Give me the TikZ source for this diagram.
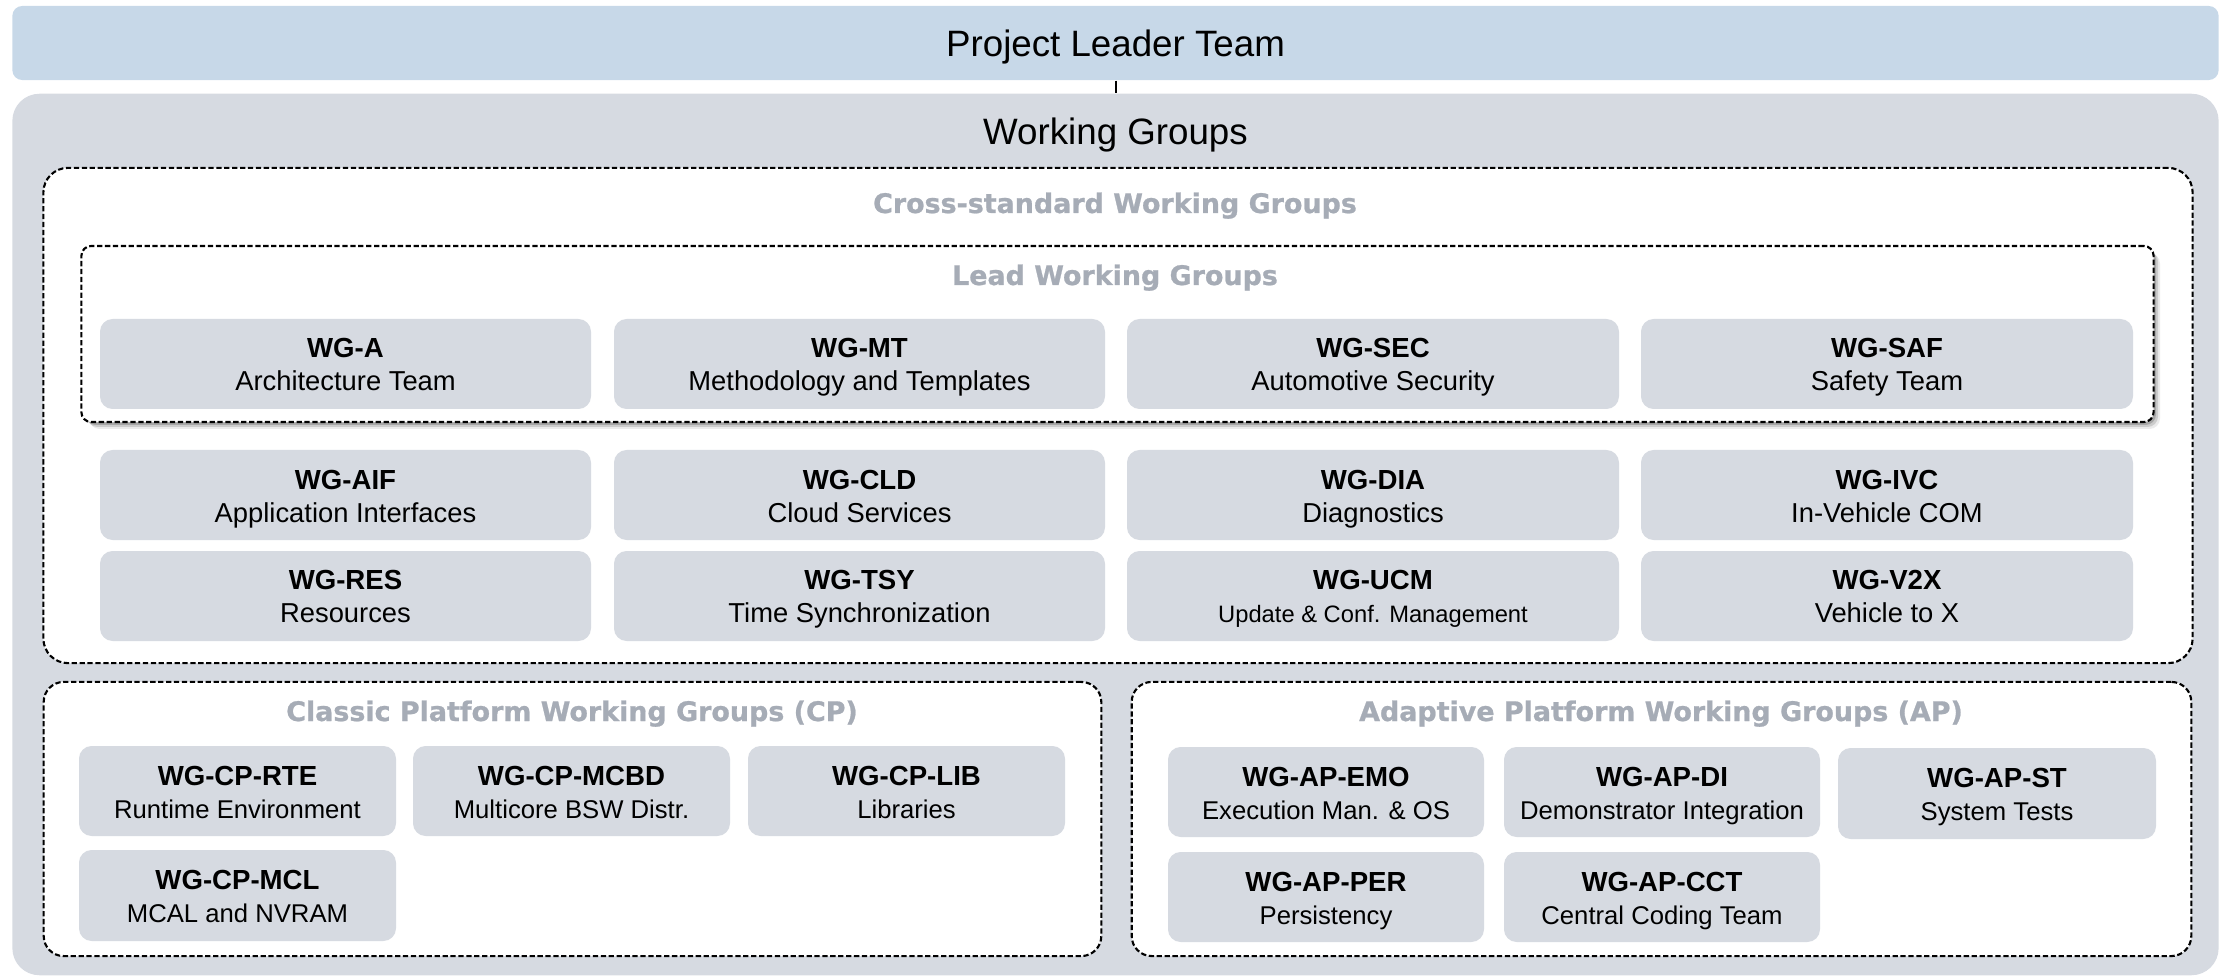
\documentclass[tikz,border=0pt]{standalone}
\usepackage{fontspec}
\setmainfont{Liberation Sans}
\newfontfamily\vfont{DejaVu Sans}[BoldFeatures={FakeBold=0.8}]
\definecolor{topblue}{RGB}{199,216,232}
\definecolor{bggray}{RGB}{214,218,225}
\definecolor{boxgray}{RGB}{214,218,225}
\definecolor{titlegray}{RGB}{166,172,182}
\newcommand\wgnode[8]{%
  \node[wgbox, minimum width={(#4-#2)*0.01cm}, minimum height={(#5-#3)*0.01cm}] (#1) at ({(#2+#4)/2},{(#3+#5)/2}) {};
  \node[btext, anchor=base] (#1t) at ({(#2+#4)/2},{#3+39}) {#6};
  \node[#8, anchor=base] (#1s) at ({(#2+#4)/2},{#3+72}) {#7};
}
\begin{document}
\begin{tikzpicture}[x=0.01cm,y=-0.01cm,
  wgbox/.style={fill=boxgray, rounded corners=3.6pt, inner sep=0pt, draw=none},
  btext/.style={inner sep=0pt, font=\fontsize{7.85}{9}\selectfont\bfseries},
  rtext/.style={inner sep=0pt, font=\fontsize{7.78}{9}\selectfont},
  rtextb/.style={inner sep=0pt, font=\fontsize{7.3}{9}\selectfont},
  rtexts/.style={inner sep=0pt, font=\fontsize{6.75}{8}\selectfont},
  dbox/.style={draw=black, line width=0.6pt, dash pattern=on 1.5pt off 0.75pt, fill=white, inner sep=0pt},
  grouptitle/.style={inner sep=0pt, text=titlegray, font=\fontsize{7.65}{9}\selectfont\vfont\bfseries},
  bigtext/.style={inner sep=0pt, font=\fontsize{10.44}{12}\selectfont}]
\useasboundingbox (0,0) rectangle (2223,976);

% top box
\node[fill=topblue, rounded corners=2.8pt, inner sep=0pt, minimum width=22.05cm, minimum height=0.74cm] (plt) at (1115.5,43) {};
\node[bigtext, anchor=base] (pltt) at (1115.5,57) {Project Leader Team};

% working groups background
\node[fill=bggray, rounded corners=7.7pt, inner sep=0pt, minimum width=22.05cm, minimum height=8.81cm] (wg) at (1115.5,534.5) {};
\node[bigtext, anchor=base] (wgt) at (1115.5,145) {Working Groups};
\draw[line width=0.5pt] (plt.south -| 1116,0) -- (wg.north -| 1116,0);

% cross-standard
\node[dbox, rounded corners=7pt, minimum width=21.48cm, minimum height=4.95cm] (cross) at (1118,415.5) {};
\node[grouptitle, anchor=base] (crosst) at (1115,213) {Cross-standard Working Groups};

% lead working groups with shadow
\foreach \o/\op in {7/0.08,5/0.13,3/0.18} {
  \fill[black, opacity=\op, rounded corners=3pt] ({82+\o},{246+\o}) rectangle ({2153+\o},{422+\o});
}
\node[dbox, rounded corners=2.8pt, minimum width=20.71cm, minimum height=1.76cm] (lead) at (1117.5,334) {};
\node[grouptitle, anchor=base] (leadt) at (1115,285) {Lead Working Groups};

\wgnode{wga}{100}{319}{591}{409}{WG-A}{Architecture Team}{rtext}
\wgnode{wgmt}{614}{319}{1105}{409}{WG-MT}{Methodology and Templates}{rtext}
\wgnode{wgsec}{1127}{319}{1619}{409}{WG-SEC}{Automotive Security}{rtext}
\wgnode{wgsaf}{1641}{319}{2133}{409}{WG-SAF}{Safety Team}{rtext}

\wgnode{wgaif}{100}{450}{591}{540}{WG-AIF}{Application Interfaces}{rtext}
\wgnode{wgcld}{614}{450}{1105}{540}{WG-CLD}{Cloud Services}{rtext}
\wgnode{wgdia}{1127}{450}{1619}{540}{WG-DIA}{Diagnostics}{rtext}
\wgnode{wgivc}{1641}{450}{2133}{540}{WG-IVC}{In-Vehicle COM}{rtext}

\wgnode{wgres}{100}{551}{591}{641}{WG-RES}{Resources}{rtext}
\wgnode{wgtsy}{614}{551}{1105}{641}{WG-TSY}{Time Synchronization}{rtext}
\wgnode{wgucm}{1127}{551}{1619}{641}{WG-UCM}{Update \& Conf. Management}{rtexts}
\wgnode{wgv2x}{1641}{551}{2133}{641}{WG-V2X}{Vehicle to X}{rtext}

% classic platform
\node[dbox, rounded corners=5.7pt, minimum width=10.57cm, minimum height=2.74cm] (cp) at (572.5,819) {};
\node[grouptitle, anchor=base] (cpt) at (572,721) {Classic Platform Working Groups (CP)};
\wgnode{cprte}{79}{746}{396}{836}{WG-CP-RTE}{Runtime Environment}{rtextb}
\wgnode{cpmcbd}{413}{746}{730}{836}{WG-CP-MCBD}{Multicore BSW Distr.}{rtextb}
\wgnode{cplib}{748}{746}{1065}{836}{WG-CP-LIB}{Libraries}{rtextb}
\wgnode{cpmcl}{79}{850}{396}{941}{WG-CP-MCL}{MCAL and NVRAM}{rtextb}

% adaptive platform
\node[dbox, rounded corners=5.7pt, minimum width=10.59cm, minimum height=2.74cm] (ap) at (1661.5,819) {};
\node[grouptitle, anchor=base] (apt) at (1661,721) {Adaptive Platform Working Groups (AP)};
\wgnode{apemo}{1168}{747}{1484}{837}{WG-AP-EMO}{Execution Man. \& OS}{rtextb}
\wgnode{apdi}{1504}{747}{1820}{837}{WG-AP-DI}{Demonstrator Integration}{rtextb}
\wgnode{apst}{1838}{748}{2156}{839}{WG-AP-ST}{System Tests}{rtextb}
\wgnode{apper}{1168}{852}{1484}{942}{WG-AP-PER}{Persistency}{rtextb}
\wgnode{apcct}{1504}{852}{1820}{942}{WG-AP-CCT}{Central Coding Team}{rtextb}
\end{tikzpicture}
\end{document}
